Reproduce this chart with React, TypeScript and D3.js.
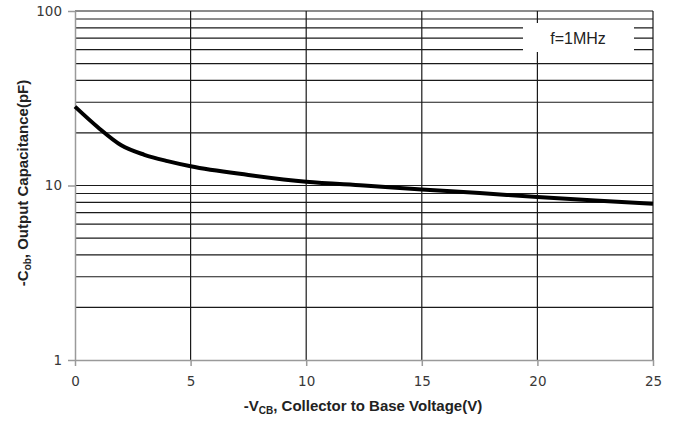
import React, { useEffect, useRef } from "react"
import * as d3 from "d3"

const voltage = [0, 1, 2, 3, 4, 5, 7.5, 10, 12.5, 15, 17.5, 20, 22.5, 25]
const capacitance = [28.3, 21.5, 17.0, 15.0, 13.8, 12.9, 11.5, 10.5, 10.0, 9.5, 9.05, 8.6, 8.2, 7.85]
const xTicks = [0, 5, 10, 15, 20, 25]
const yTicks = [1, 10, 100]

const W = 678
const H = 423
const margin = { top: 11, right: 25, bottom: 63, left: 75 }

export default function App() {
  const ref = useRef<SVGSVGElement>(null)

  useEffect(() => {
    const svg = d3.select(ref.current)
    svg.selectAll("*").remove()

    const x = d3.scaleLinear().domain([0, 25]).range([margin.left, W - margin.right])
    const y = d3.scaleLog().domain([1, 100]).range([H - margin.bottom, margin.top])

    const grid = svg.append("g").attr("stroke", "#1a1a1a").attr("stroke-width", 1.2)

    // horizontal log grid lines
    const minors: number[] = []
    for (const dec of [1, 10]) for (let k = 2; k <= 10; k++) minors.push(dec * k)
    grid
      .selectAll("line.h")
      .data(minors)
      .join("line")
      .attr("x1", x(0))
      .attr("x2", x(25))
      .attr("y1", d => y(d))
      .attr("y2", d => y(d))

    // vertical grid lines
    grid
      .selectAll("line.v")
      .data(xTicks.slice(1))
      .join("line")
      .attr("x1", d => x(d))
      .attr("x2", d => x(d))
      .attr("y1", y(100))
      .attr("y2", y(1))

    // legend box
    svg
      .append("rect")
      .attr("x", 523)
      .attr("y", 23)
      .attr("width", 111)
      .attr("height", 29)
      .attr("fill", "#fff")
    svg
      .append("text")
      .attr("x", 578)
      .attr("y", 44)
      .attr("text-anchor", "middle")
      .attr("font-family", "Liberation Sans, Arial, sans-serif")
      .attr("font-size", 16)
      .attr("fill", "#222")
      .text("f=1MHz")

    // axes
    const xAxis = svg
      .append("g")
      .attr("transform", `translate(0,${y(1)})`)
      .call(d3.axisBottom(x).tickValues(xTicks).tickSize(6).tickPadding(10).tickSizeOuter(0))
    const yAxis = svg
      .append("g")
      .attr("transform", `translate(${x(0)},0)`)
      .call(
        d3
          .axisLeft(y)
          .tickValues(yTicks)
          .tickFormat(d3.format("d"))
          .tickSize(7)
          .tickPadding(6)
          .tickSizeOuter(0)
      )
    for (const a of [xAxis, yAxis]) {
      a.select(".domain").attr("stroke", "#9a9a9a").attr("stroke-width", 1.5)
      a.selectAll(".tick line").attr("stroke", "#9a9a9a").attr("stroke-width", 1.5)
      a.selectAll(".tick text")
        .attr("font-family", "DejaVu Sans, Verdana, sans-serif")
        .attr("font-size", 13.5)
        .attr("fill", "#383838")
    }

    // curve
    const line = d3
      .line<number>()
      .x((_, i) => x(voltage[i]))
      .y(d => y(d))
      .curve(d3.curveMonotoneX)
    svg
      .append("path")
      .datum(capacitance)
      .attr("fill", "none")
      .attr("stroke", "#000")
      .attr("stroke-width", 4)
      .attr("d", line)

    // axis titles
    const xt = svg
      .append("text")
      .attr("x", 363)
      .attr("y", 411)
      .attr("text-anchor", "middle")
      .attr("font-family", "Liberation Sans, Arial, sans-serif")
      .attr("font-size", 15)
      .attr("font-weight", "bold")
      .attr("fill", "#222")
    xt.append("tspan").text("-V")
    xt.append("tspan").attr("font-size", 10).attr("dy", 3).text("CB")
    xt.append("tspan").attr("dy", -3).text(", Collector  to Base Voltage(V)")

    const yt = svg
      .append("text")
      .attr("transform", `translate(28,183) rotate(-90)`)
      .attr("text-anchor", "middle")
      .attr("font-family", "Liberation Sans, Arial, sans-serif")
      .attr("font-size", 15)
      .attr("font-weight", "bold")
      .attr("fill", "#222")
    yt.append("tspan").text("-C")
    yt.append("tspan").attr("font-size", 10).attr("dy", 3).text("ob")
    yt.append("tspan").attr("dy", -3).text(", Output  Capacitance(pF)")
  }, [])

  return (
    <svg
      ref={ref}
      width={W}
      height={H}
      style={{ position: "absolute", left: 0, top: 0, background: "#fff" }}
    />
  )
}
